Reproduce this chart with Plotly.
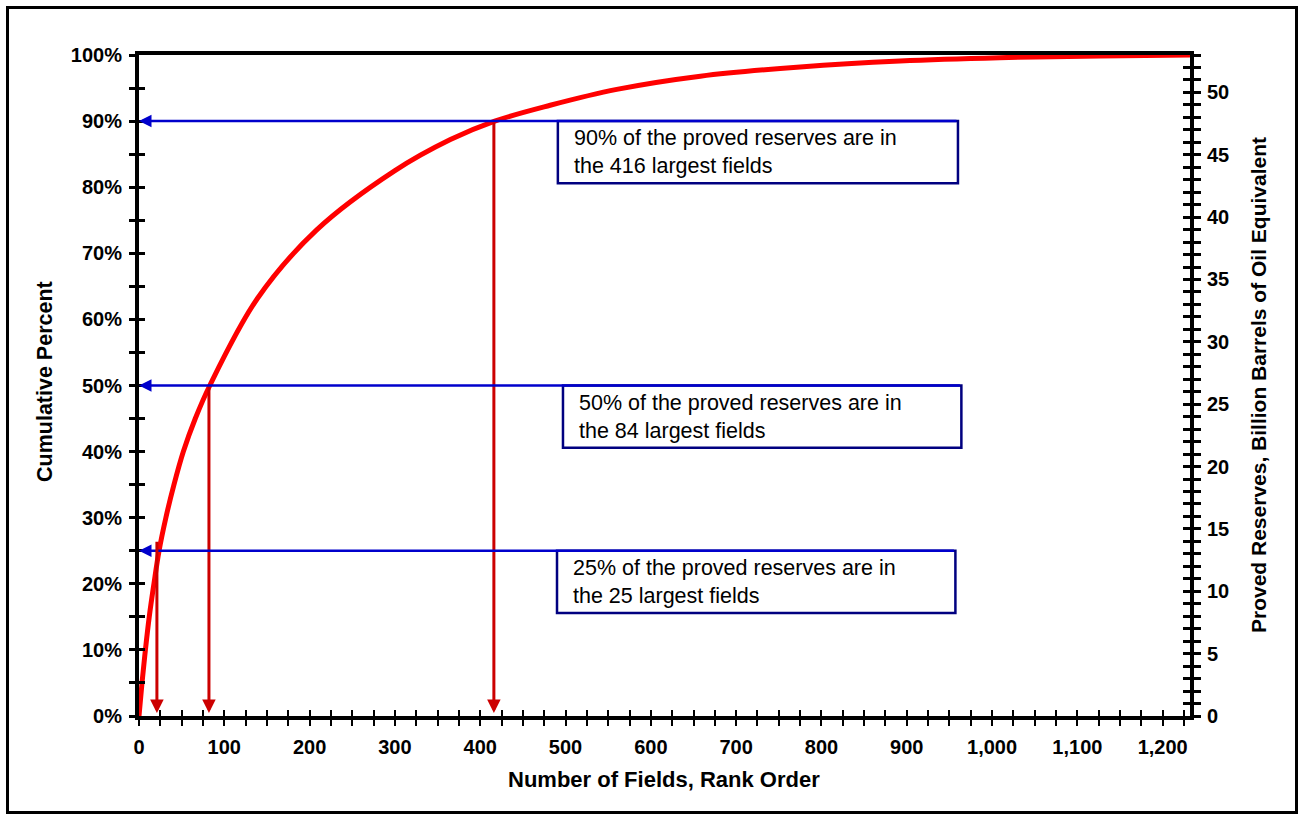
import plotly.graph_objects as go

# ---------------- data ----------------
rank = [0, 3.5, 7.5, 12, 17.5, 23.5, 31.5, 41, 52, 66, 83, 139, 208, 300, 365, 417,
        482, 560, 658, 775, 892, 1009, 1127, 1232]
cum_pct = [0, 5, 10, 15, 20, 25, 30, 35, 40, 45, 50, 63.2, 73.5, 82.5, 87.2, 90,
           92.4, 94.8, 96.8, 98.2, 99.1, 99.6, 99.85, 100]
x_max = 1232
total_reserves = 53.0  # billion BOE at 100 %

callout_pct = [90, 50, 25]
callout_fields = [416, 84, 25]
drop_rank = [416, 82, 21]
drop_top = [90, 50, 26.6]
box_left = [491, 497, 490]
box_right = [960, 964, 957]
box_height = 9.4
callout_text = [
    "90% of the proved reserves are in<br>the 416 largest fields",
    "50% of the proved reserves are in<br>the 84 largest fields",
    "25% of the proved reserves are in<br>the 25 largest fields",
]

FONT = "Liberation Sans, Arial, sans-serif"
W, H = 1299, 815
L, R, T, B = 139, 109, 55, 99
PW, PH = W - L - R, H - T - B


def px_x(p):
    return (p - L) / PW


def px_y(p):
    return (H - B - p) / PH


fig = go.Figure()
fig.add_trace(go.Scatter(x=rank, y=cum_pct, mode="lines",
                         line=dict(color="#FF0000", width=5, shape="spline", smoothing=1.0),
                         showlegend=False, hoverinfo="skip", xaxis="x", yaxis="y"))
# helper traces so that the overlay axes are drawn
fig.add_trace(go.Scatter(x=[None], y=[None], xaxis="x", yaxis="y2", showlegend=False))
fig.add_trace(go.Scatter(x=[None], y=[None], xaxis="x2", yaxis="y3", showlegend=False))
fig.add_trace(go.Scatter(x=[None], y=[None], xaxis="x2", yaxis="y4", showlegend=False))

tickfont = dict(family=FONT, size=20, color="black", weight="bold")

fig.update_layout(
    width=W, height=H,
    margin=dict(l=L, r=R, t=T, b=B, pad=0),
    paper_bgcolor="white", plot_bgcolor="white",
    showlegend=False,
    xaxis=dict(range=[0, x_max], tickmode="linear", tick0=0, dtick=100, tickformat=",d",
               ticks="outside", ticklen=6, tickwidth=1.5, tickcolor="black",
               minor=dict(tick0=0, dtick=25, ticks="outside", ticklen=6, tickwidth=1.5, tickcolor="black"),
               showline=True, linewidth=4, linecolor="black", mirror=True,
               showgrid=False, zeroline=False, tickfont=tickfont, layer="below traces",
               ticklabelstandoff=4),
    xaxis2=dict(range=[0, x_max], overlaying="x", anchor="y", side="bottom",
                tickmode="linear", tick0=0, dtick=100, ticks="inside", ticklen=6, tickwidth=1.5,
                tickcolor="black",
                minor=dict(tick0=0, dtick=25, ticks="inside", ticklen=6, tickwidth=1.5, tickcolor="black"),
                showticklabels=False, showline=False, showgrid=False, zeroline=False),
    yaxis=dict(range=[0, 100], tickmode="linear", tick0=0, dtick=10, ticksuffix="%",
               ticks="outside", ticklen=6, tickwidth=3, tickcolor="black",
               minor=dict(tick0=0, dtick=5, ticks="outside", ticklen=6, tickwidth=3, tickcolor="black"),
               showline=True, linewidth=4, linecolor="black",
               showgrid=False, zeroline=False, tickfont=tickfont, ticklabelstandoff=3),
    yaxis3=dict(range=[0, 100], overlaying="y", anchor="x2", side="left",
                tickmode="linear", tick0=0, dtick=10, ticks="inside", ticklen=6, tickwidth=3,
                tickcolor="black",
                minor=dict(tick0=0, dtick=5, ticks="inside", ticklen=6, tickwidth=3, tickcolor="black"),
                showticklabels=False, showline=False, showgrid=False, zeroline=False),
    yaxis2=dict(range=[0, total_reserves], overlaying="y", anchor="x", side="right",
                tickmode="linear", tick0=0, dtick=5,
                ticks="outside", ticklen=7, tickwidth=3, tickcolor="black",
                minor=dict(tick0=0, dtick=1, ticks="outside", ticklen=7, tickwidth=3, tickcolor="black"),
                showline=True, linewidth=4, linecolor="black",
                showgrid=False, zeroline=False, tickfont=tickfont, ticklabelstandoff=2),
    yaxis4=dict(range=[0, total_reserves], overlaying="y", anchor="x2", side="right",
                tickmode="linear", tick0=0, dtick=5, ticks="inside", ticklen=7, tickwidth=3,
                tickcolor="black",
                minor=dict(tick0=0, dtick=1, ticks="inside", ticklen=7, tickwidth=3, tickcolor="black"),
                showticklabels=False, showline=False, showgrid=False, zeroline=False),
)

shapes = []
annotations = []
for i in range(3):
    shapes.append(dict(type="rect", xref="x", yref="y",
                       x0=box_left[i], x1=box_right[i],
                       y0=callout_pct[i] - box_height, y1=callout_pct[i],
                       line=dict(color="#000080", width=2.5), fillcolor="white", layer="above"))
    annotations.append(dict(xref="x", yref="y", x=box_left[i], xshift=14, xanchor="left",
                            y=callout_pct[i] - box_height / 2, yanchor="middle",
                            text=callout_text[i], showarrow=False, align="left",
                            font=dict(family=FONT, size=21.5, color="black")))
    # blue arrow to the left axis
    annotations.append(dict(xref="x", yref="y", x=0, y=callout_pct[i],
                            axref="x", ayref="y", ax=box_right[i], ay=callout_pct[i],
                            text="", showarrow=True, arrowhead=2, arrowsize=1.0,
                            arrowwidth=2.5, arrowcolor="#0000CC", standoff=0))
    # red arrow down to the x axis
    annotations.append(dict(xref="x", yref="y", x=drop_rank[i], y=0,
                            axref="x", ayref="y", ax=drop_rank[i], ay=drop_top[i],
                            text="", showarrow=True, arrowhead=2, arrowsize=0.9,
                            arrowwidth=3, arrowcolor="#CC0000", standoff=3))

# axis titles
annotations.append(dict(xref="paper", yref="paper", x=px_x(45), y=px_y(382),
                        text="<b>Cumulative Percent</b>", textangle=-90, showarrow=False,
                        xanchor="center", yanchor="middle",
                        font=dict(family=FONT, size=21.5, color="black")))
annotations.append(dict(xref="paper", yref="paper", x=px_x(1258), y=px_y(385),
                        text="<b>Proved Reserves, Billion Barrels of Oil Equivalent</b>",
                        textangle=-90, showarrow=False, xanchor="center", yanchor="middle",
                        font=dict(family=FONT, size=21, color="black")))
annotations.append(dict(xref="paper", yref="paper", x=px_x(664), y=px_y(779),
                        text="<b>Number of Fields, Rank Order</b>", showarrow=False,
                        xanchor="center", yanchor="middle",
                        font=dict(family=FONT, size=22, color="black")))

# outer frame
shapes.append(dict(type="rect", xref="paper", yref="paper",
                   x0=px_x(7.5), x1=px_x(1296.5), y0=px_y(812.5), y1=px_y(7.5),
                   line=dict(color="black", width=3), fillcolor="rgba(0,0,0,0)", layer="above"))

fig.update_layout(shapes=shapes, annotations=annotations)
fig.write_html("out.html", config={"displayModeBar": False},
               post_script="document.body.style.margin='0px';")
